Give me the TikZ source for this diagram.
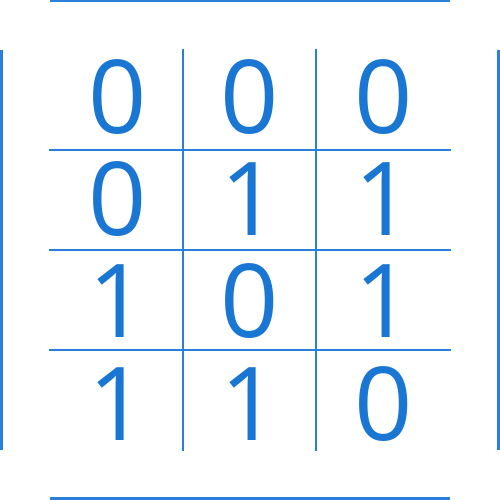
\documentclass[tikz,border=0pt]{standalone}
\usepackage{fontspec}
\setmainfont{Open Sans}
\definecolor{digblue}{RGB}{25,118,210}
\definecolor{lineblue}{RGB}{40,128,218}
\begin{document}
\begin{tikzpicture}[x=1pt,y=-1pt,
  gline/.style={draw=lineblue,line width=2pt},
  bline/.style={draw=lineblue,line width=2.6pt},
  dig/.style={text=digblue,inner sep=0pt,anchor=base,font=\fontsize{102}{102}\selectfont}]
\useasboundingbox (0,0) rectangle (500,500);
% outer bracket lines
\coordinate (t1) at (50,1); \coordinate (t2) at (450,1);
\coordinate (b1) at (50,498.5); \coordinate (b2) at (450,498.5);
\coordinate (l1) at (1.3,50); \coordinate (l2) at (1.3,450);
\coordinate (r1) at (498.5,50); \coordinate (r2) at (498.5,450);
\draw[bline] (t1) -- (t2);
\draw[bline] (b1) -- (b2);
\draw[bline] (l1) -- (l2);
\draw[bline] (r1) -- (r2);
% grid
\coordinate (v1a) at (183,49); \coordinate (v1b) at (183,451);
\coordinate (v2a) at (316,49); \coordinate (v2b) at (316,451);
\draw[gline] (v1a) -- (v1b);
\draw[gline] (v2a) -- (v2b);
\foreach \y/\n in {150/h1,250/h2,350/h3}{
  \coordinate (\n a) at (49,\y); \coordinate (\n b) at (451,\y);
  \draw[gline] (\n a) -- (\n b);
}
% digits
\node[dig] (d11) at (118,133) {0};
\node[dig] (d12) at (250,133) {0};
\node[dig] (d13) at (384,133) {0};
\node[dig] (d21) at (118,235) {0};
\node[dig] (d22) at (250,235) {1};
\node[dig] (d23) at (384,235) {1};
\node[dig] (d31) at (118,337) {1};
\node[dig] (d32) at (250,337) {0};
\node[dig] (d33) at (384,337) {1};
\node[dig] (d41) at (118,440) {1};
\node[dig] (d42) at (250,440) {1};
\node[dig] (d43) at (384,440) {0};
\end{tikzpicture}
\end{document}
